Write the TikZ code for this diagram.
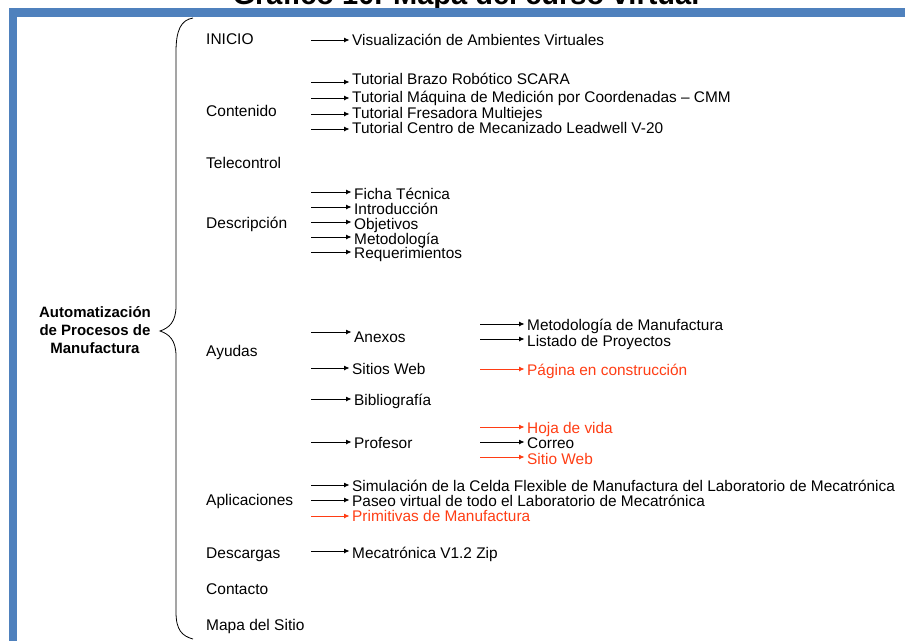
\documentclass[tikz,border=0pt]{standalone}
\usepackage{fontspec}
\setmainfont{Liberation Sans}
\usetikzlibrary{arrows.meta}

\definecolor{framebl}{RGB}{79,129,189}
\definecolor{hlred}{RGB}{255,61,20}

% one arrow plus the item it points to
% #1 name, #2 extra style, #3 arrow start x, #4 text x, #5 arrow y, #6 text centre y, #7 text
\newcommand{\branchitem}[7]{%
  \coordinate (#1-s) at (#3,#5);
  \node[leaf,#2] (#1) at ({#4},{#6+5.5}) {#7};
  \draw[arr,#2] (#1-s) -- (#1-s -| #1.west);
}

\begin{document}
\begin{tikzpicture}[x=1pt,y=-1pt,
  lvl/.style={font=\fontsize{15.5}{17}\selectfont, anchor=base west, inner sep=0pt},
  leaf/.style={font=\fontsize{15.4}{17}\selectfont, anchor=base west, inner sep=0pt},
  rootlabel/.style={font=\fontsize{15}{18}\selectfont\bfseries, align=center, inner sep=0pt},
  arr/.style={-{Latex[length=5.5pt,width=5pt]}, line width=0.8pt, shorten >=2.5pt},
  hl/.style={color=hlred},
  band/.style={fill=framebl, draw=none}]

\clip (0,0) rectangle (905,641);

% heading, mostly above the page edge
\node[anchor=base, inner sep=0pt, font=\fontsize{29}{29}\selectfont\bfseries] (title) at (466,4) {Gráfico 10. Mapa del curso virtual};

% frame bands
\fill[band] (9,8) rectangle (905,17);
\fill[band] (9,8) rectangle (17,641);

% root
\node[rootlabel] (root) at (95,330) {Automatización\\de Procesos de\\Manufactura};

% big brace
\draw[line width=0.8pt] (193,18) .. controls (181,20) and (176,30) .. (176,52)
  -- (176,306) .. controls (176,322) and (169,328) .. (160,331)
  .. controls (169,334) and (176,340) .. (176,356)
  -- (176,612) .. controls (176,630) and (182,636) .. (193,639);

% first level
\node[lvl] (inicio) at (206,44.5) {INICIO};
\node[lvl] (contenido) at (206,116.5) {Contenido};
\node[lvl] (telecontrol) at (206,168.5) {Telecontrol};
\node[lvl] (descripcion) at (206,228.5) {Descripción};
\node[lvl] (ayudas) at (206,356.5) {Ayudas};
\node[lvl] (aplicaciones) at (206,505.5) {Aplicaciones};
\node[lvl] (descargas) at (206,558.5) {Descargas};
\node[lvl] (contacto) at (206,594.5) {Contacto};
\node[lvl] (mapa) at (206,630.5) {Mapa del Sitio};

% INICIO
\branchitem{vis}{}{311}{352}{40}{40}{Visualización de Ambientes Virtuales}

% Contenido
\branchitem{scara}{}{311}{352}{82}{79}{Tutorial Brazo Robótico SCARA}
\branchitem{cmm}{}{311}{352}{98}{97}{Tutorial Máquina de Medición por Coordenadas – CMM}
\branchitem{fresa}{}{311}{352}{114}{113}{Tutorial Fresadora Multiejes}
\branchitem{leadwell}{}{311}{352}{129}{128}{Tutorial Centro de Mecanizado Leadwell V-20}

% Descripción
\branchitem{ficha}{}{311}{354}{192}{194}{Ficha Técnica}
\branchitem{intro}{}{311}{354}{207}{209}{Introducción}
\branchitem{objet}{}{311}{354}{222}{224}{Objetivos}
\branchitem{metod}{}{311}{354}{237}{239}{Metodología}
\branchitem{reque}{}{311}{354}{252}{253}{Requerimientos}

% Ayudas
\branchitem{anexos}{}{311}{354}{332}{337}{Anexos}
\branchitem{sitios}{}{311}{352}{368}{369}{Sitios Web}
\branchitem{biblio}{}{311}{354}{399}{400}{Bibliografía}
\branchitem{profe}{}{311}{354}{442}{443}{Profesor}

\branchitem{metman}{}{480}{527}{324}{325}{Metodología de Manufactura}
\branchitem{listado}{}{480}{527}{339}{341}{Listado de Proyectos}
\branchitem{pagina}{hl}{480}{527}{369}{370}{Página en construcción}
\branchitem{hoja}{hl}{480}{527}{427}{428}{Hoja de vida}
\branchitem{correo}{}{480}{527}{442}{443}{Correo}
\branchitem{sitio}{hl}{480}{527}{457}{459}{Sitio Web}

% Aplicaciones
\branchitem{celda}{}{311}{352}{485}{486}{Simulación de la Celda Flexible de Manufactura del Laboratorio de Mecatrónica}
\branchitem{paseo}{}{311}{352}{500}{501}{Paseo virtual de todo el Laboratorio de Mecatrónica}
\branchitem{primit}{hl}{311}{352}{516}{516}{Primitivas de Manufactura}

% Descargas
\branchitem{zip}{}{311}{352}{551}{553}{Mecatrónica V1.2 Zip}

\end{tikzpicture}
\end{document}
